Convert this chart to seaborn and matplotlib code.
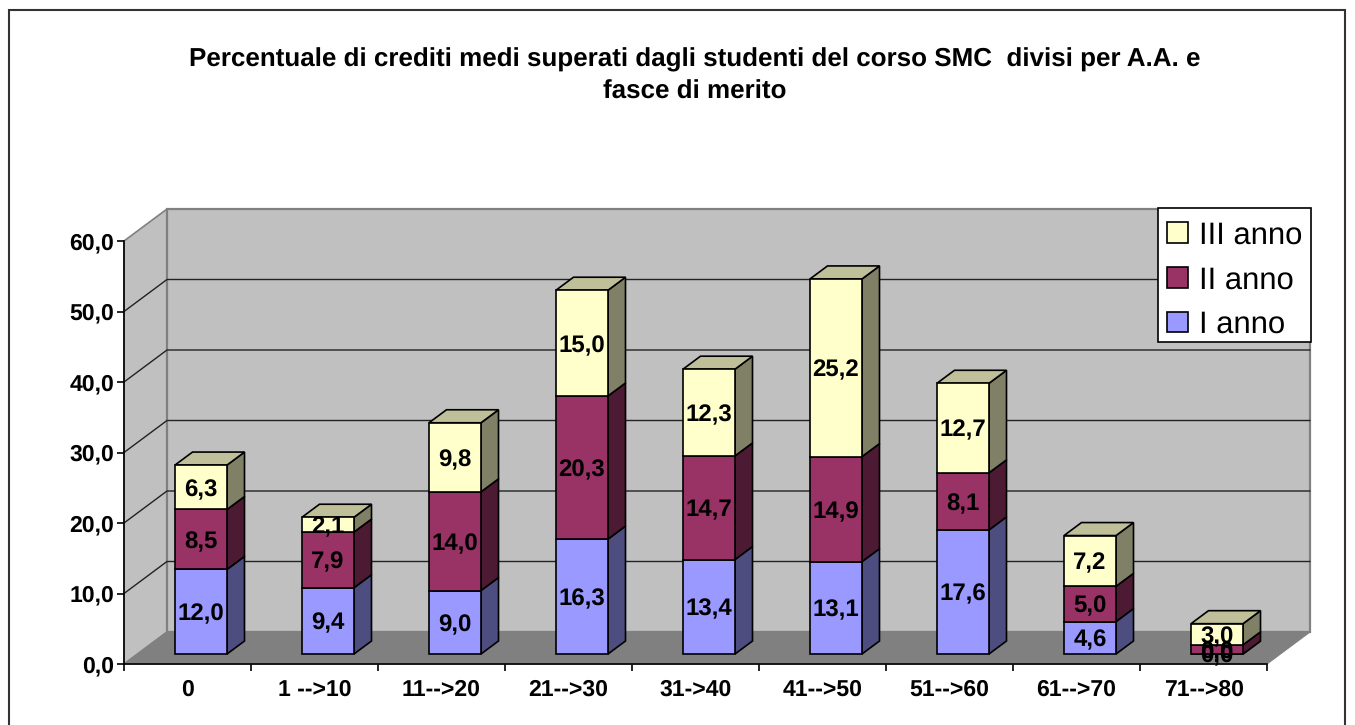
import numpy as np
import seaborn as sns
import matplotlib.pyplot as plt
from matplotlib.patches import Polygon, Rectangle
from matplotlib.transforms import Affine2D, IdentityTransform

categorie = ['0', '1 -->10', '11-->20', '21-->30', '31->40', '41-->50', '51-->60', '61-->70', '71-->80']
primo_anno = [12.0, 9.4, 9.0, 16.3, 13.4, 13.1, 17.6, 4.6, 0.0]
secondo_anno = [8.5, 7.9, 14.0, 20.3, 14.7, 14.9, 8.1, 5.0, 1.3]
terzo_anno = [6.3, 2.1, 9.8, 15.0, 12.3, 25.2, 12.7, 7.2, 3.0]
etichette_secondo = ['8,5', '7,9', '14,0', '20,3', '14,7', '14,9', '8,1', '5,0', '0,0']
y_ticks = [0, 10, 20, 30, 40, 50, 60]

titolo = 'Percentuale di crediti medi superati dagli studenti del corso SMC  divisi per A.A. e\nfasce di merito'

serie = [
    ('I anno', primo_anno, '#9999FF', '#4D4D80', None),
    ('II anno', secondo_anno, '#993366', '#4D1A33', None),
    ('III anno', terzo_anno, '#FFFFCC', '#808066', '#BFBF99'),
]

W, H = 1355, 725
sns.set_theme(style='white')
plt.rcParams['font.family'] = ['Liberation Sans', 'DejaVu Sans']
plt.rcParams['text.hinting'] = 'no_hinting'
plt.rcParams['text.hinting_factor'] = 1

fig = plt.figure(figsize=(W / 100, H / 100), dpi=100)
ax = fig.add_axes([124 / W, (H - 664) / H, 1143 / W, 423 / H])
ax.patch.set_alpha(0)

# barre impilate: le facce frontali sono di seaborn
bottom = np.zeros(len(categorie))
for nome, valori, col, col_lato, col_top in serie:
    sns.barplot(x=categorie, y=valori, color=col, width=52 / 127, bottom=bottom,
                edgecolor='black', linewidth=1.2, saturation=1, label=nome, ax=ax, zorder=5)
    bottom = bottom + np.array(valori)

ax.set_xlim(-0.5, 8.5)
ax.set_ylim(0, 60)

# spostamento prospettico in pixel
DX, DY = 43, 32
BX, BY = 13.5, 10
LX, LY = 17.5, 13
fronte = ax.transData + Affine2D().translate(BX, BY)
for p in ax.patches:
    p.set_transform(fronte)
    p.set_clip_on(False)


def px(x, y):
    return ax.transData.transform((x, y))


def poly(punti, fc, ec='black', lw=1.2, z=4):
    ax.add_patch(Polygon(punti, closed=True, facecolor=fc, edgecolor=ec, linewidth=lw,
                         transform=IdentityTransform(), clip_on=False, zorder=z))


# pareti e pavimento
x0, x1 = -0.5, 8.5
a, b, c, d = px(x0, 0), px(x1, 0), px(x0, 60), px(x1, 60)
back = np.array([DX, DY])
poly([a, a + back, c + back, c], '#C0C0C0', '#808080', 1.2, 0)
poly([a + back, b + back, d + back, c + back], '#C0C0C0', '#808080', 1.6, 0)
poly([a, b, b + back, a + back], '#808080', '#808080', 0.8, 1)
for t in y_ticks[1:-1]:
    pt = px(x0, t)
    ax.plot([pt[0], pt[0] + DX, b[0] + DX], [pt[1], pt[1] + DY, pt[1] + DY], color='#222222',
            lw=1.0, transform=IdentityTransform(), clip_on=False, zorder=2)

# lati e coperchi delle barre
largh = 26 / 127
for i in range(len(categorie)):
    base = 0
    for nome, valori, col, col_lato, col_top in serie:
        v = valori[i]
        r0 = px(i + largh, base) + np.array([BX, BY])
        r1 = px(i + largh, base + v) + np.array([BX, BY])
        prof = np.array([LX, LY])
        poly([r0, r1, r1 + prof, r0 + prof], col_lato, z=4)
        base += v
    l1 = px(i - largh, base) + np.array([BX, BY])
    r1 = px(i + largh, base) + np.array([BX, BY])
    poly([l1, r1, r1 + prof, l1 + prof], serie[2][4], z=4)

# etichette dei valori
for i in range(len(categorie)):
    base = 0
    for j, (nome, valori, col, col_lato, col_top) in enumerate(serie):
        v = valori[i]
        lab = f'{v:.1f}'.replace('.', ',')
        if j == 1:
            lab = etichette_secondo[i]
        ax.text(i, base + v / 2, lab, transform=fronte, ha='center', va='center_baseline',
                fontsize=17, fontweight='bold', color='black', zorder=8, clip_on=False)
        base += v

# assi
sns.despine(ax=ax, top=True, right=True)
for s in ['left', 'bottom']:
    ax.spines[s].set_color('black')
    ax.spines[s].set_linewidth(1.2)
    ax.spines[s].set_zorder(3)
ax.set_yticks(y_ticks)
ax.set_yticklabels([f'{t:.1f}'.replace('.', ',') for t in y_ticks], fontsize=16.5, fontweight='bold', color='black')
ax.set_xticks(np.arange(-0.5, 9, 1))
ax.set_xticklabels([])
ax.set_xticks(np.arange(9), minor=True)
ax.set_xticklabels(categorie, minor=True, fontsize=16.5, fontweight='bold', color='black')
ax.tick_params(axis='y', which='major', left=True, length=5, width=1.2, color='black', pad=2)
ax.tick_params(axis='x', which='major', bottom=True, length=5, width=1.2, color='black')
ax.tick_params(axis='x', which='minor', bottom=False, length=0, pad=11)
ax.set_xlabel('')
ax.set_ylabel('')

# legenda: cornice a parte, le voci stanno piu in basso che nel box standard
ax.add_patch(Rectangle((1158, H - 342), 153, 134, transform=IdentityTransform(), facecolor='white',
                       edgecolor='black', linewidth=1.2, clip_on=False, zorder=9))
h, l = ax.get_legend_handles_labels()
leg = ax.legend(h[::-1], l[::-1], loc='upper left', bbox_to_anchor=(1158 / W, (H - 212) / H),
                bbox_transform=fig.transFigure, fontsize=22.5, frameon=False, borderpad=0.3,
                labelspacing=0.5, handlelength=0.65, handleheight=0.65, handletextpad=0.35,
                borderaxespad=0, labelcolor='black')
leg.set_zorder(10)

fig.text(695 / W, 1 - 76 / H, titolo, ha='center', va='center', fontsize=19.0, fontweight='bold',
         linespacing=1.43, color='black')

# cornice esterna
fig.add_artist(Rectangle((9 / W, 10 / H - 1), 1336 / W, (H - 10) / H * 2, transform=fig.transFigure,
                         fill=False, edgecolor='#333333', linewidth=1.5))

fig.savefig('out.png', dpi=100)
